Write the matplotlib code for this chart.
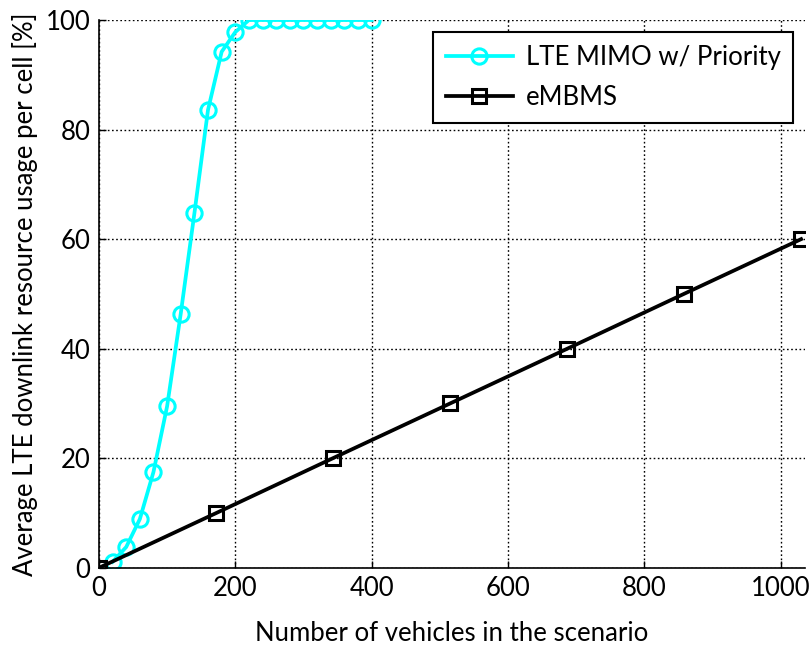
import matplotlib
matplotlib.use("Agg")
import matplotlib.pyplot as plt

plt.rcParams['font.family'] = ['Lato', 'DejaVu Sans']

# LTE MIMO w/ Priority
lte_x = [20, 40, 60, 80, 100, 120, 140, 160, 180, 200,
         220, 240, 260, 280, 300, 320, 340, 360, 380, 400]
lte_y = [1.1, 3.8, 8.9, 17.5, 29.5, 46.4, 64.7, 83.6, 94.2, 97.8,
         100, 100, 100, 100, 100, 100, 100, 100, 100, 100]

# eMBMS
embms_x = [0, 172, 343, 515, 687, 858, 1030]
embms_y = [0, 10, 20, 30, 40, 50, 60]

fig = plt.figure(figsize=(8.11, 6.46), dpi=100)
ax = fig.add_axes([0.122, 0.121, 0.870, 0.848])

ax.plot(lte_x, lte_y, color='#00ffff', lw=2.7, marker='o', ms=11,
        mfc='none', mew=2.2, label='LTE MIMO w/ Priority')
ax.plot(embms_x, embms_y, color='black', lw=2.7, marker='s', ms=10.5,
        mfc='none', mew=2.2, label='eMBMS')

ax.set_xlim(0, 1035)
ax.set_ylim(0, 100)
ax.set_xticks([0, 200, 400, 600, 800, 1000])
ax.set_yticks([0, 20, 40, 60, 80, 100])
ax.grid(True, color='black', linestyle=(0, (1.2, 1.8)), linewidth=1)
ax.spines['top'].set_visible(False)
ax.spines['right'].set_visible(False)
ax.spines['left'].set_linewidth(1.2)
ax.spines['bottom'].set_linewidth(1.2)
ax.tick_params(direction='in', length=5, width=1, labelsize=18.5, pad=6)

ax.set_xlabel('Number of vehicles in the scenario', fontsize=18.5, labelpad=14)
ax.set_ylabel('Average LTE downlink resource usage per cell [%]', fontsize=18.5, labelpad=6)

leg = ax.legend(loc='upper right', fontsize=18.5, fancybox=False, framealpha=1,
                edgecolor='black', handlelength=2.6, borderpad=0.5,
                labelspacing=0.6, handletextpad=0.5, borderaxespad=0,
                bbox_to_anchor=(0.984, 0.978))
leg.get_frame().set_linewidth(1.5)

fig.savefig('out.png', dpi=100)
